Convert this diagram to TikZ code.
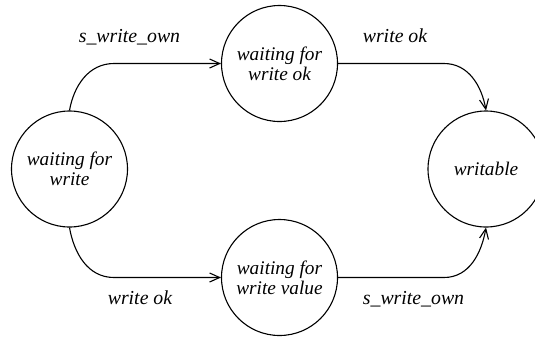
\documentclass[tikz,border=0pt]{standalone}
\usepackage{fontspec}
\setmainfont{Liberation Serif}
\usetikzlibrary{arrows.meta}
\begin{document}
\begin{tikzpicture}[x=1bp,y=-1bp,
  state/.style={draw,circle,line width=1.1bp,inner sep=0pt,minimum size=116bp,
    align=center,font=\fontsize{19.3bp}{20bp}\selectfont\itshape},
  lbl/.style={anchor=base,inner sep=0pt,font=\fontsize{19.8bp}{20bp}\selectfont\itshape},
  trans/.style={line width=1.1bp,-{Straight Barb[length=10bp,width=9bp,line width=1.1bp]}}]
\useasboundingbox (0,0) rectangle (535,337);

% states
\node[state] (wfw)  at (69.5,169)   {waiting for\\write};
\node[state] (wok)  at (279.5,63.5) {waiting for\\write ok};
\node[state] (wval) at (279.5,277.5){waiting for\\write value};
\node[state] (wr)   at (486,169)    {writable};

% bend points of the transitions
\coordinate (b1) at (114,63.5);
\coordinate (b2) at (444,63.5);
\coordinate (b3) at (114,277.5);
\coordinate (b4) at (444,277.5);

% transitions
\draw[trans] (wfw.north) to[out=80,in=180] (b1) -- (wok.west);
\draw[trans] (wok.east) -- (b2) to[out=0,in=100] (wr.north);
\draw[trans] (wfw.south) to[out=-80,in=180] (b3) -- (wval.west);
\draw[trans] (wval.east) -- (b4) to[out=0,in=-100] (wr.south);

% transition labels
\node[lbl] (l1) at (129.5,42) {s\_write\_own};
\node[lbl] (l2) at (395,42)   {write ok};
\node[lbl] (l3) at (140,304)  {write ok};
\node[lbl] (l4) at (413.5,304){s\_write\_own};
\end{tikzpicture}
\end{document}
